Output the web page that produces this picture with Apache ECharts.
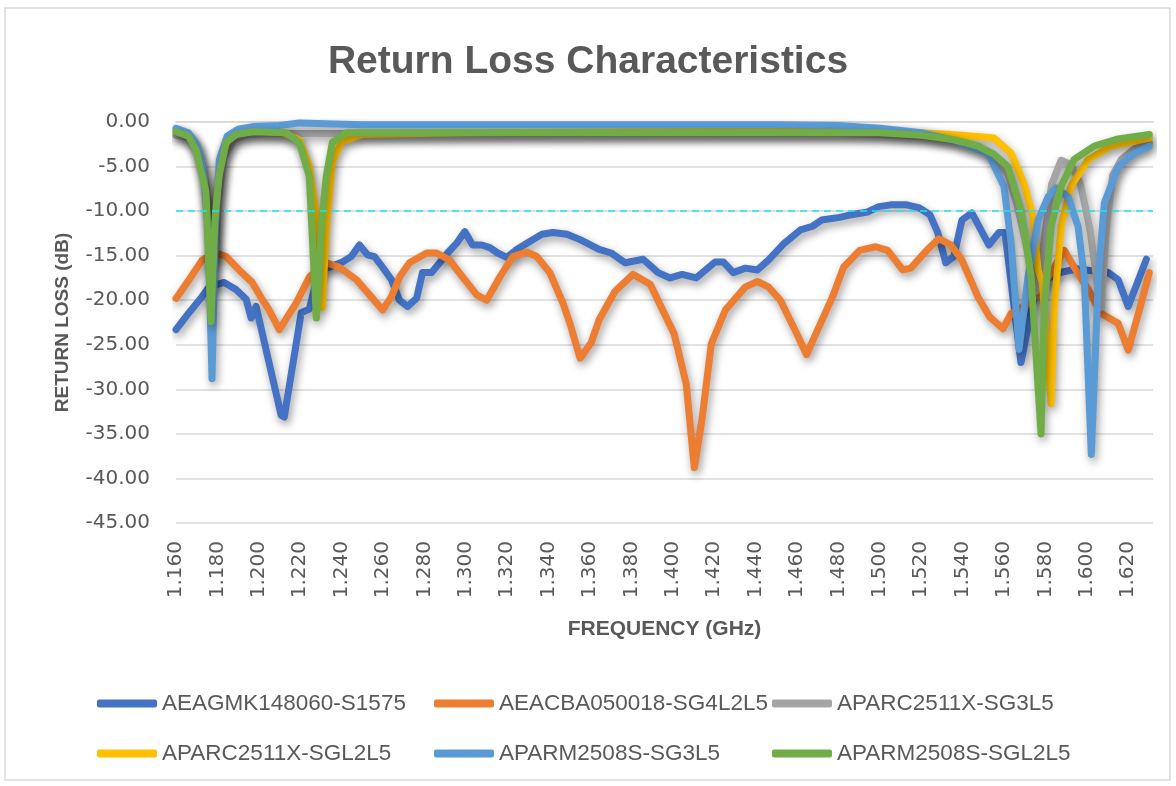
<!DOCTYPE html>
<html>
<head>
<meta charset="utf-8">
<title>Return Loss Characteristics</title>
<script src="https://cdn.jsdelivr.net/npm/echarts@6/dist/echarts.min.js"></script>
<style>
html,body{margin:0;padding:0;background:#fff;}
#main{width:1176px;height:786px;}
</style>
</head>
<body>
<div id="main"></div>
<script>
// x axis ticks (GHz) and y axis range (dB)
var freqMin = 1.16, freqMax = 1.632, freqStep = 0.02;
var rlMin = -45, rlMax = 0, rlStep = 5;
var limitLine = -10;

var names = ['AEAGMK148060-S1575', 'AEACBA050018-SG4L2L5', 'APARC2511X-SG3L5',
             'APARC2511X-SGL2L5', 'APARM2508S-SG3L5', 'APARM2508S-SGL2L5'];
var colors = ['#4472C4', '#ED7D31', '#A5A5A5', '#FFC000', '#5B9BD5', '#70AD47'];

// AEAGMK148060-S1575
var freqBlue = [1.160,1.1663,1.1726,1.176,1.1832,1.189,1.1939,1.1963,1.1987,1.2108,1.2123,1.2205,1.2244,1.2293,1.2341,1.2404,1.2447,1.2486,1.2525,1.2559,1.2598,1.2641,1.268,1.2719,1.2762,1.2791,1.2835,1.2874,1.2912,1.2956,1.2995,1.3033,1.3077,1.3116,1.3154,1.3198,1.3246,1.3309,1.3368,1.3421,1.3489,1.3552,1.3644,1.3702,1.377,1.3857,1.3929,1.3987,1.4045,1.4113,1.4205,1.4244,1.4292,1.4351,1.4409,1.4462,1.4539,1.4617,1.4675,1.4719,1.4806,1.4864,1.4941,1.4995,1.5053,1.513,1.5188,1.5242,1.528,1.5319,1.5358,1.5397,1.5445,1.5527,1.5576,1.5605,1.5682,1.5755,1.585,1.595,1.6104,1.6152,1.62,1.6288];
var rlBlue = [-23.3,-21.4,-19.6,-18.5,-18.0,-18.8,-19.9,-22.0,-20.7,-32.9,-33.1,-21.4,-21.0,-16.5,-16.3,-15.7,-15.1,-13.8,-14.9,-15.1,-16.3,-17.7,-20.0,-20.7,-19.8,-16.9,-16.9,-15.8,-14.7,-13.6,-12.3,-13.8,-13.8,-14.1,-14.7,-15.2,-14.3,-13.4,-12.6,-12.4,-12.6,-13.2,-14.3,-14.7,-15.8,-15.4,-16.9,-17.5,-17.1,-17.5,-15.7,-15.7,-16.9,-16.4,-16.6,-15.5,-13.6,-12.1,-11.7,-11.0,-10.7,-10.4,-10.1,-9.5,-9.3,-9.3,-9.6,-10.4,-12.4,-15.8,-15.1,-11.0,-10.2,-13.8,-12.4,-12.4,-27.0,-18.5,-17.0,-16.5,-16.9,-17.7,-20.7,-15.4];

// AEACBA050018-SG4L2L5
var freqOrange = [1.160,1.1663,1.1726,1.1794,1.1842,1.1905,1.1968,1.2016,1.205,1.2099,1.2181,1.2244,1.2326,1.2389,1.2472,1.2535,1.2598,1.2641,1.268,1.2728,1.2811,1.2859,1.2922,1.2985,1.3053,1.3101,1.3164,1.3227,1.3295,1.3343,1.3406,1.3469,1.3503,1.3552,1.3605,1.3644,1.3721,1.3808,1.3891,1.3949,1.4007,1.4065,1.4104,1.4142,1.4186,1.4254,1.4351,1.4409,1.4462,1.452,1.4598,1.4646,1.4714,1.4772,1.4825,1.4903,1.498,1.5038,1.5111,1.515,1.5227,1.5285,1.5343,1.5397,1.5474,1.5532,1.5595,1.5634,1.571,1.578,1.5891,1.5939,1.6007,1.607,1.6152,1.62,1.6254,1.6302];
var rlOrange = [-19.8,-17.7,-15.5,-14.7,-15.1,-16.6,-18.0,-19.9,-21.1,-23.3,-20.3,-17.4,-15.8,-16.3,-17.7,-19.4,-21.1,-19.6,-17.4,-15.8,-14.7,-14.7,-15.5,-17.4,-19.4,-20.0,-17.4,-15.1,-14.6,-15.1,-16.9,-20.3,-22.6,-26.5,-24.8,-22.2,-19.0,-17.1,-18.2,-21.0,-23.8,-29.4,-38.8,-33.2,-24.9,-21.1,-18.5,-17.9,-18.5,-20.0,-23.7,-26.1,-22.6,-19.6,-16.3,-14.4,-14.0,-14.4,-16.6,-16.4,-14.4,-13.1,-13.8,-15.5,-19.6,-21.9,-23.2,-21.5,-20.5,-18.8,-14.4,-16.3,-18.8,-21.5,-22.6,-25.6,-21.1,-16.9];

// APARC2511X-SG3L5
var freqGray = [1.160,1.166,1.170,1.173,1.1765,1.1785,1.1805,1.183,1.188,1.195,1.21,1.30,1.40,1.48,1.50,1.52,1.535,1.548,1.556,1.562,1.566,1.571,1.5755,1.579,1.583,1.5876,1.5924,1.597,1.6015,1.605,1.607,1.6095,1.6125,1.6167,1.623,1.6302];
var rlGray = [-1.5,-1.8,-2.8,-5,-10,-16,-9,-4,-2,-1.4,-1.3,-1.3,-1.3,-1.3,-1.4,-1.6,-2.0,-2.8,-4,-6,-9,-14,-19,-14,-7,-4.3,-4.8,-7,-12,-18,-20.8,-12,-6,-4.2,-3,-2.3];

// APARC2511X-SGL2L5
var freqYellow = [1.160,1.166,1.170,1.1735,1.1755,1.1775,1.1795,1.1815,1.185,1.19,1.20,1.212,1.2196,1.2244,1.2275,1.2295,1.2307,1.2326,1.2355,1.24,1.25,1.30,1.40,1.50,1.52,1.54,1.5552,1.5634,1.5697,1.574,1.5765,1.5785,1.5828,1.5842,1.5876,1.5924,1.6007,1.6118,1.6302];
var rlYellow = [-1.0,-1.5,-3,-6,-12,-18,-9,-4,-2,-1.3,-1.0,-1.2,-2.0,-5,-10,-17,-20.8,-12,-4.5,-2.2,-1.4,-1.2,-1.1,-1.0,-1.2,-1.5,-1.8,-3.5,-6.9,-10.6,-16.6,-18,-31.6,-21,-11.7,-7.2,-4.2,-2.7,-1.8];

// APARM2508S-SG3L5
var freqLBlue = [1.160,1.166,1.170,1.173,1.1755,1.1774,1.179,1.181,1.1847,1.19,1.1977,1.21,1.2196,1.25,1.30,1.35,1.40,1.45,1.48,1.50,1.52,1.535,1.5523,1.560,1.5634,1.5673,1.5716,1.5765,1.5813,1.5852,1.591,1.5958,1.5988,1.6022,1.6056,1.6085,1.6152,1.623,1.6302];
var rlLBlue = [-0.7,-1.2,-2.5,-5,-12,-28.8,-12,-4.2,-1.6,-0.8,-0.5,-0.4,-0.1,-0.3,-0.3,-0.3,-0.3,-0.3,-0.4,-0.7,-1.2,-2.0,-3.5,-7.2,-13.5,-25.5,-17.4,-11,-8.4,-7.4,-8.4,-11.7,-17.4,-37.3,-17.4,-9.1,-5.0,-3.5,-2.7];

// APARM2508S-SGL2L5
var freqGreen = [1.160,1.166,1.1697,1.1745,1.1769,1.1788,1.1808,1.1842,1.1891,1.1968,1.2133,1.2196,1.2244,1.2278,1.2305,1.2326,1.2355,1.2423,1.30,1.40,1.50,1.52,1.536,1.5474,1.555,1.5619,1.5682,1.5731,1.5779,1.5794,1.5828,1.5876,1.5939,1.6036,1.6152,1.6302];
var rlGreen = [-1.1,-1.6,-3.1,-7.9,-22.4,-11,-6.1,-2.3,-1.4,-1.1,-1.2,-2.3,-6.1,-22.0,-11,-6.1,-2.3,-1.2,-1.2,-1.2,-1.2,-1.5,-2.0,-2.7,-3.6,-5.0,-9.8,-17.3,-35.0,-21,-11.7,-7.2,-4.2,-2.7,-1.9,-1.4];

var freqs = [freqBlue, freqOrange, freqGray, freqYellow, freqLBlue, freqGreen];
var values = [rlBlue, rlOrange, rlGray, rlYellow, rlLBlue, rlGreen];

var textColor = '#595959';
var font = "'Liberation Sans', Arial, sans-serif";

function zip(f, v) {
    return f.map(function (x, i) { return [x, v[i]]; });
}

var myChart = echarts.init(document.getElementById('main'));

var series = names.map(function (name, i) {
    return {
        name: name,
        type: 'line',
        data: zip(freqs[i], values[i]),
        showSymbol: false,
        symbol: 'none',
        itemStyle: { color: colors[i] },
        lineStyle: {
            color: colors[i], width: 7, cap: 'round', join: 'round',
            shadowColor: 'rgba(0,0,0,0.4)', shadowBlur: 8, shadowOffsetX: 2, shadowOffsetY: 4
        },
        emphasis: { disabled: true }
    };
});
// dashed -10 dB limit line
series[5].markLine = {
    silent: true,
    symbol: 'none',
    label: { show: false },
    lineStyle: { color: '#1EE8E8', type: [7, 5], width: 1.5, shadowBlur: 0, shadowOffsetX: 0, shadowOffsetY: 0 },
    data: [{ yAxis: limitLine }]
};

// legend: 3 per row, two rows
var legendLeft = [97, 434, 772];
var legendTop = [692, 742];
var legends = names.map(function (name, i) {
    return {
        data: [name],
        left: legendLeft[i % 3],
        top: legendTop[Math.floor(i / 3)],
        padding: 0,
        icon: 'roundRect',
        itemWidth: 60,
        itemHeight: 8,
        itemGap: 0,
        selectedMode: false,
        textStyle: { fontSize: 22.5, color: textColor, fontFamily: font }
    };
});

var option = {
    animation: false,
    backgroundColor: '#fff',
    title: {
        text: 'Return Loss Characteristics',
        left: 'center',
        top: 38,
        textStyle: { fontSize: 39, fontWeight: 'bold', color: textColor, fontFamily: font }
    },
    legend: legends,
    grid: { left: 176, right: 23, top: 122, bottom: 263 },
    xAxis: {
        type: 'value',
        min: freqMin,
        max: freqMax,
        interval: freqStep,
        name: 'FREQUENCY (GHz)',
        nameLocation: 'middle',
        nameGap: 96,
        nameTextStyle: { fontSize: 21, fontWeight: 'bold', color: textColor, fontFamily: font },
        axisLine: { lineStyle: { color: '#d9d9d9', width: 1.5 } },
        axisTick: { show: false },
        splitLine: { show: false },
        axisLabel: {
            rotate: 90,
            margin: 18,
            fontSize: 20,
            color: textColor,
            fontFamily: 'DejaVu Sans',
            showMaxLabel: false,
            formatter: function (v) {
                var r = (v - freqMin) / freqStep;
                if (Math.abs(r - Math.round(r)) > 1e-6) return '';
                return v.toFixed(3);
            }
        }
    },
    yAxis: {
        type: 'value',
        min: rlMin,
        max: rlMax,
        interval: rlStep,
        name: 'RETURN LOSS (dB)',
        nameLocation: 'middle',
        nameGap: 104,
        nameTextStyle: { fontSize: 19, fontWeight: 'bold', color: textColor, fontFamily: font },
        axisLine: { show: false },
        axisTick: { show: false },
        splitLine: { lineStyle: { color: '#d9d9d9', width: 1.5 } },
        axisLabel: {
            margin: 26,
            fontSize: 20,
            color: textColor,
            fontFamily: 'DejaVu Sans',
            formatter: function (v) { return v.toFixed(2); }
        }
    },
    graphic: [{
        type: 'rect',
        silent: true,
        shape: { x: 5, y: 8, width: 1165, height: 772 },
        style: { fill: 'none', stroke: '#d9d9d9', lineWidth: 1.5 }
    }],
    series: series
};

myChart.setOption(option);
</script>
</body>
</html>
